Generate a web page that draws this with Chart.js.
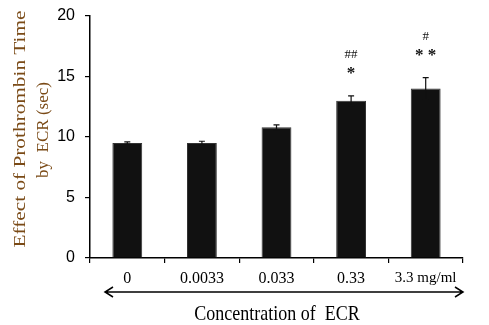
<!DOCTYPE html>
<html>
<head>
<meta charset="utf-8">
<script src="https://cdn.jsdelivr.net/npm/chart.js@4.4.0/dist/chart.umd.min.js"></script>
<style>
    html, body { margin: 0; padding: 0; background: #fff; }
    #wrap { width: 489px; height: 325px; }
</style>
</head>
<body>
<div id="wrap"><canvas id="ptChart" width="489" height="325"></canvas></div>
<script>
// 数据
const concentrations = ['0', '0.0033', '0.033', '0.33', '3.3 mg/ml'];
const ptMeans = [9.5, 9.5, 10.8, 13.0, 14.0];
const ptErrors = [0.1, 0.15, 0.2, 0.4, 0.9];
const markUpper = ['', '', '', '##', '#'];
const markLower = ['', '', '', '*', '**'];
const yTicks = [0, 5, 10, 15, 20];

const serif = '"Liberation Serif", "DejaVu Serif", serif';
const sans = '"Liberation Sans", Arial, sans-serif';

// 误差线 + 显著性标记 + 箭头 + 轴标题
const extrasPlugin = {
    id: 'extras',
    afterDatasetsDraw(chart) {
        const ctx = chart.ctx;
        const xs = chart.scales.x;
        const ys = chart.scales.y;
        const area = chart.chartArea;
        ctx.save();

        // 误差线
        ctx.strokeStyle = '#111';
        ctx.lineWidth = 1.2;
        ptMeans.forEach((v, i) => {
            const x = xs.getPixelForValue(i);
            const top = ys.getPixelForValue(v + ptErrors[i]);
            const bot = ys.getPixelForValue(v - ptErrors[i]);
            ctx.beginPath();
            ctx.moveTo(x, top); ctx.lineTo(x, bot);
            ctx.moveTo(x - 3, top); ctx.lineTo(x + 3, top);
            ctx.moveTo(x - 3, bot); ctx.lineTo(x + 3, bot);
            ctx.stroke();

            // 标记
            ctx.fillStyle = '#111';
            ctx.textAlign = 'center';
            ctx.textBaseline = 'middle';
            ctx.font = 'bold 17px ' + serif;
            if (markLower[i]) ctx.fillText(markLower[i].split('').join(' '), x, top - 22);
            ctx.font = '13px ' + serif;
            if (markUpper[i]) ctx.fillText(markUpper[i], x, top - 41);
        });

        // 双向箭头
        const ay = area.bottom + 34;
        const ax1 = area.left + 15;
        const ax2 = area.right;
        ctx.strokeStyle = '#000';
        ctx.lineWidth = 1.5;
        ctx.beginPath();
        ctx.moveTo(ax1, ay); ctx.lineTo(ax2, ay);
        ctx.moveTo(ax1 + 8, ay - 5); ctx.lineTo(ax1, ay); ctx.lineTo(ax1 + 8, ay + 5);
        ctx.moveTo(ax2 - 8, ay - 5); ctx.lineTo(ax2, ay); ctx.lineTo(ax2 - 8, ay + 5);
        ctx.stroke();

        // x轴标题
        ctx.fillStyle = '#000';
        ctx.font = '18px ' + serif;
        ctx.textAlign = 'center';
        ctx.textBaseline = 'alphabetic';
        ctx.save();
        ctx.translate(277, 320);
        ctx.scale(1, 1.15);
        ctx.fillText('Concentration of  ECR', 0, 0);
        ctx.restore();

        // y轴标题
        ctx.fillStyle = '#7a4a16';
        ctx.font = '16px ' + serif;
        ctx.textBaseline = 'middle';
        ctx.save();
        ctx.translate(21, 129);
        ctx.rotate(-Math.PI / 2);
        ctx.scale(1.33, 1);
        ctx.fillText('Effect of Prothrombin Time', 0, 0);
        ctx.restore();
        ctx.save();
        ctx.translate(44, 130);
        ctx.rotate(-Math.PI / 2);
        ctx.font = '17px ' + serif;
        ctx.fillText('by  ECR (sec)', 0, 0);
        ctx.restore();

        ctx.restore();
    }
};

const ctx = document.getElementById('ptChart').getContext('2d');
new Chart(ctx, {
    type: 'bar',
    data: {
        labels: concentrations,
        datasets: [{
            data: ptMeans,
            backgroundColor: '#111111',
            borderColor: '#333333',
            borderWidth: 1,
            barPercentage: 0.4,
            categoryPercentage: 1.0
        }]
    },
    options: {
        responsive: false,
        animation: false,
        layout: { padding: { top: 16, right: 26, left: 0, bottom: 0 } },
        plugins: {
            legend: { display: false },
            tooltip: { enabled: false }
        },
        scales: {
            x: {
                afterFit: s => { s.height = 67; },
                grid: {
                    display: true,
                    drawOnChartArea: false,
                    offset: true,
                    tickLength: 5,
                    color: '#000',
                    lineWidth: 1.2
                },
                border: { display: true, color: '#000', width: 1.5 },
                ticks: {
                    color: '#000',
                    padding: 6,
                    font: c => ({ family: serif, size: c.index === concentrations.length - 1 ? 15 : 16 }),
                    maxRotation: 0
                }
            },
            y: {
                min: 0,
                max: 20,
                afterFit: s => { s.width = 90; s.paddingTop = 0; },
                afterBuildTicks: s => { s.ticks = yTicks.map(v => ({ value: v })); },
                grid: {
                    display: true,
                    drawOnChartArea: false,
                    tickLength: 5,
                    color: '#000',
                    lineWidth: 1.2
                },
                border: { display: true, color: '#000', width: 1.5 },
                ticks: {
                    color: '#000',
                    padding: 10,
                    font: { family: sans, size: 16, lineHeight: 1 }
                }
            }
        }
    },
    plugins: [extrasPlugin]
});
</script>
</body>
</html>
